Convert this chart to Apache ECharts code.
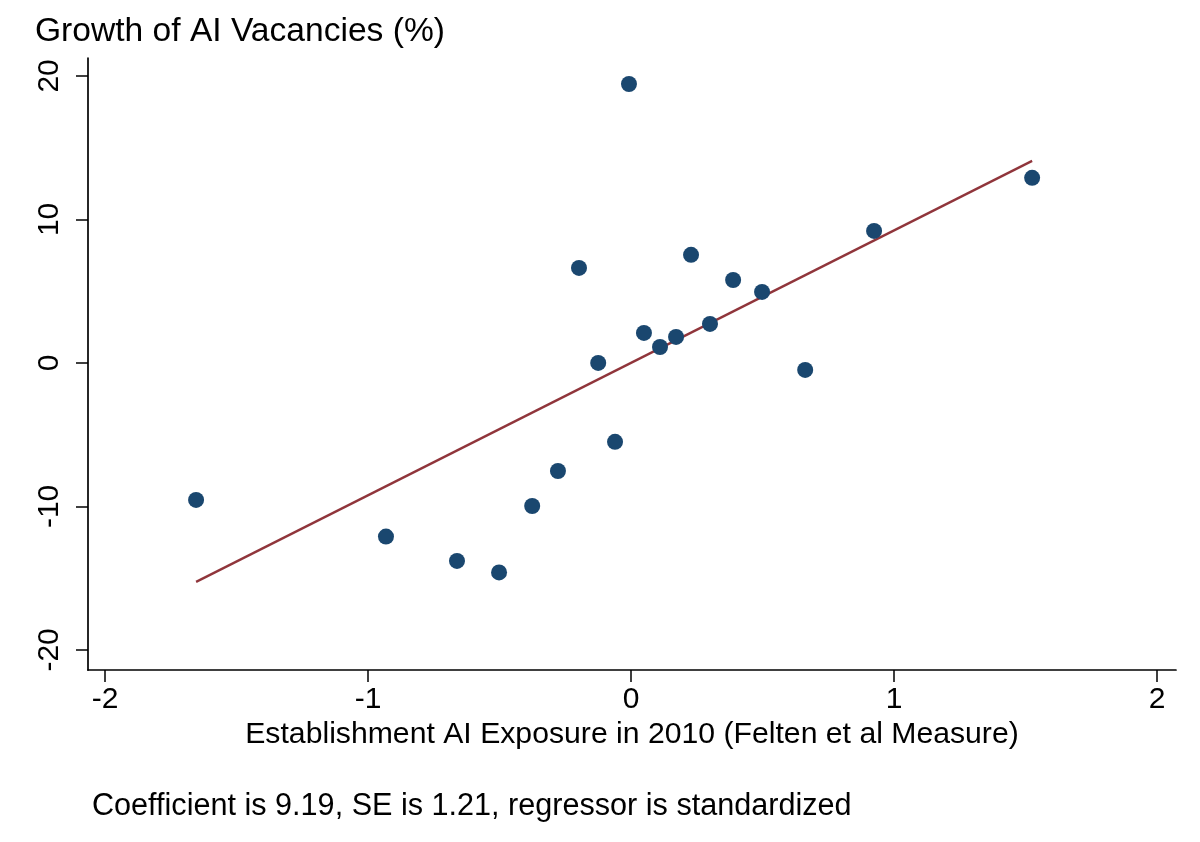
<!DOCTYPE html>
<html>
<head>
<meta charset="utf-8">
<script src="https://cdn.jsdelivr.net/npm/echarts@6/dist/echarts.min.js"></script>
<style>
  html, body { margin: 0; padding: 0; background: #fff; }
  #main { width: 1200px; height: 842px; }
</style>
</head>
<body>
<div id="main"></div>
<script>
var chart = echarts.init(document.getElementById('main'));

// establishment AI exposure (standardized) vs growth of AI vacancies (%)
var exposure = [-1.654, -0.932, -0.662, -0.502, -0.376, -0.278, -0.198, -0.125, -0.061, -0.008,
    0.049, 0.110, 0.171, 0.228, 0.300, 0.388, 0.498, 0.662, 0.924, 1.525];
var growth = [-9.55, -12.1, -13.8, -14.6, -9.97, -7.53, 6.62, 0.0, -5.5, 19.44,
    2.09, 1.11, 1.81, 7.53, 2.72, 5.78, 4.95, -0.49, 9.2, 12.9];

// fitted line end points
var fitX = [-1.654, 1.525];
var fitY = [-15.26, 14.08];

var xTicks = [-2, -1, 0, 1, 2];
var yTicks = [-20, -10, 0, 10, 20];

var points = exposure.map(function(x, i) {
    return [x, growth[i]];
});
var fitLine = fitX.map(function(x, i) {
    return [x, fitY[i]];
});

var font = 'Liberation Sans, Arial, Helvetica, sans-serif';

chart.setOption({
    backgroundColor: '#fff',
    animation: false,
    title: [{
        text: 'Growth of AI Vacancies (%)',
        left: 30,
        top: 10,
        textStyle: {
            color: '#000',
            fontFamily: font,
            fontWeight: 'normal',
            fontSize: 33.6
        }
    }, {
        text: 'Coefficient is 9.19, SE is 1.21, regressor is standardized',
        left: 87,
        top: 786,
        textStyle: {
            color: '#000',
            fontFamily: font,
            fontWeight: 'normal',
            fontSize: 30.6
        }
    }],
    grid: {
        left: 88,
        right: 24,
        top: 58,
        bottom: 172,
        containLabel: false
    },
    xAxis: {
        type: 'value',
        min: -2.065,
        max: 2.072,
        name: 'Establishment AI Exposure in 2010 (Felten et al Measure)',
        nameLocation: 'middle',
        nameGap: 50,
        nameTextStyle: {
            color: '#000',
            fontFamily: font,
            fontSize: 30.2
        },
        axisLine: {
            show: true,
            onZero: false,
            lineStyle: { color: '#000', width: 1.7 }
        },
        axisTick: {
            show: true,
            length: 12,
            customValues: xTicks,
            lineStyle: { color: '#000', width: 1.5 }
        },
        axisLabel: {
            color: '#000',
            fontFamily: font,
            fontSize: 30,
            margin: 15,
            customValues: xTicks
        },
        splitLine: { show: false }
    },
    yAxis: {
        type: 'value',
        min: -21.4,
        max: 21.25,
        axisLine: {
            show: true,
            onZero: false,
            lineStyle: { color: '#000', width: 1.7 }
        },
        axisTick: {
            show: true,
            length: 12,
            customValues: yTicks,
            lineStyle: { color: '#000', width: 1.5 }
        },
        axisLabel: {
            color: '#000',
            fontFamily: font,
            fontSize: 30,
            rotate: 90,
            margin: 38,
            verticalAlign: 'middle',
            align: 'center',
            customValues: yTicks
        },
        splitLine: { show: false }
    },
    series: [{
        type: 'line',
        data: fitLine,
        symbol: 'none',
        z: 2,
        lineStyle: { color: '#90353b', width: 2.3 }
    }, {
        type: 'scatter',
        data: points,
        symbolSize: 16,
        z: 3,
        itemStyle: { color: '#1a476f', opacity: 1 }
    }]
});
</script>
</body>
</html>
